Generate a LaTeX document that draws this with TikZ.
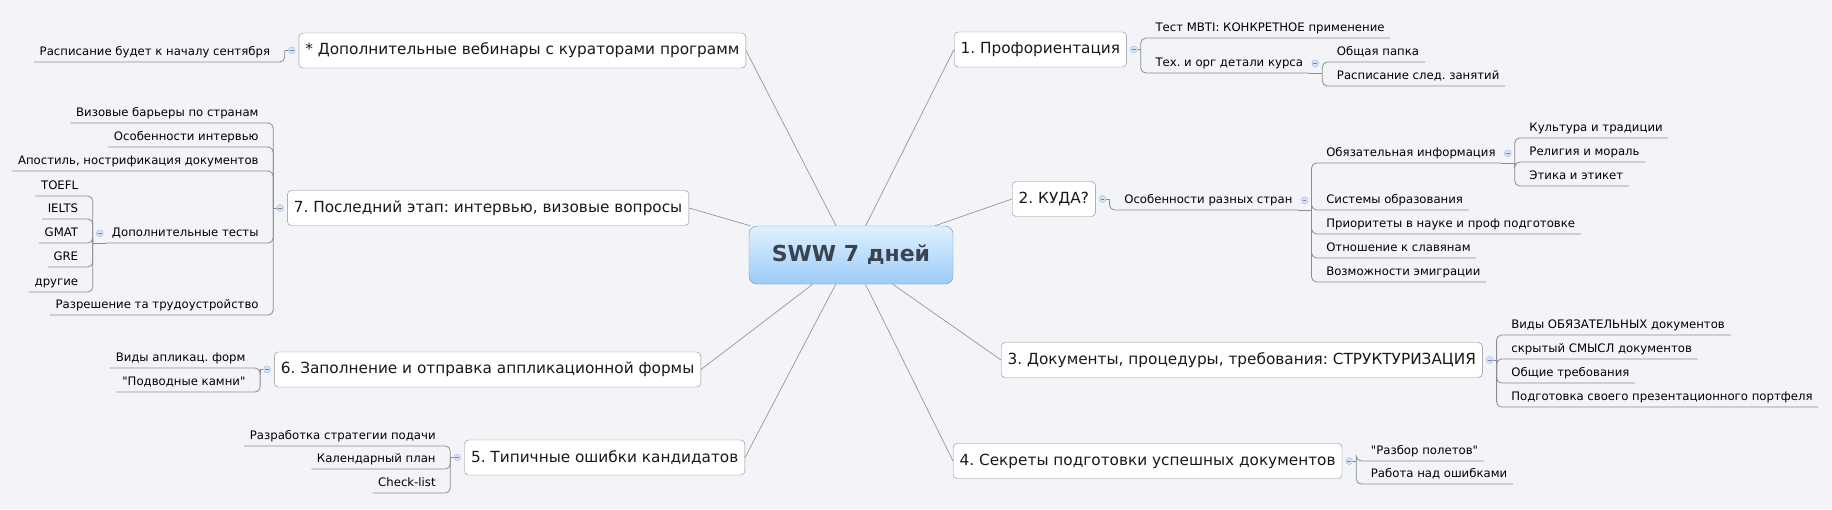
\documentclass[tikz,border=0pt]{standalone}
\usepackage{fontspec}
\setmainfont{DejaVu Sans}[Ligatures=TeXOff]
\frenchspacing
\usetikzlibrary{positioning, calc}
\definecolor{bgcol}{HTML}{F2F4F7}
\definecolor{linecol}{HTML}{8C8C8C}
\definecolor{boxline}{HTML}{8A8A8A}
\definecolor{rootline}{HTML}{7D8FA3}
\definecolor{roottop}{HTML}{DFF0FE}
\definecolor{rootbot}{HTML}{9CCCF8}
\definecolor{roottext}{HTML}{3A4450}
\definecolor{dotfill}{HTML}{D5E3F4}
\definecolor{dotline}{HTML}{A3BEDF}
\tikzset{
	root/.style={draw=rootline, rounded corners=8pt, top color=roottop, bottom color=rootbot, minimum width=204pt, minimum height=58pt, font=\fontsize{22}{26}\selectfont\bfseries, text=roottext},
	topic/.style={draw=boxline, fill=white, rounded corners=4pt, minimum height=35pt, inner xsep=6.5pt, font=\fontsize{15.3}{18}\selectfont, text=black!90},
	leaf/.style={inner xsep=5.5pt, inner ysep=4pt, text height=8.5pt, text depth=2.5pt, font=\fontsize{11.7}{13}\selectfont},
	leaf right/.style={leaf, anchor=south west, xshift=9pt},
	leaf left/.style={leaf, anchor=south east, xshift=-9pt},
	spoke/.style={draw=linecol!90, line width=0.7pt},
	twig/.style={draw=linecol, line width=0.8pt, rounded corners=5pt},
	fold/.style={circle, draw=dotline, fill=dotfill, inner sep=0pt, minimum size=7pt, path picture={\draw[dotline!70!black, line width=0.6pt] ([xshift=1.6pt]path picture bounding box.west) -- ([xshift=-1.6pt]path picture bounding box.east);}}
}

\begin{document}
\begin{tikzpicture}[x=1pt, y=-1pt]
	\fill[bgcol] (0,0) rectangle (1832,509);
	\useasboundingbox (0,0) rectangle (1832,509);

	\node[root] (root) at (851,255) {SWW 7 дней};

	\node[topic, anchor=east] (tS) at (746,50.5) {* Дополнительные вебинары с кураторами программ};
	\node[topic, anchor=east] (t7) at (689,208) {7. Последний этап: интервью, визовые вопросы};
	\node[topic, anchor=east] (t6) at (701,369.5) {6. Заполнение и отправка аппликационной формы};
	\node[topic, anchor=east] (t5) at (745,457.5) {5. Типичные ошибки кандидатов};
	\node[topic, anchor=west] (t1) at (954,49.5) {1. Профориентация};
	\node[topic, anchor=west] (t2) at (1012,199) {2. КУДА?};
	\node[topic, anchor=west] (t3) at (1001,360) {3. Документы, процедуры, требования: СТРУКТУРИЗАЦИЯ};
	\node[topic, anchor=west] (t4) at (953,461) {4. Секреты подготовки успешных документов};

	\foreach \t in {tS,t7,t6,t5} \draw[spoke] (root) -- (\t.east);
	\foreach \t in {t1,t2,t3,t4} \draw[spoke] (root) -- (\t.west);

	\foreach \t in {tS,t7,t6,t5} {
		\node[fold] (\t f) at ([xshift=-7pt]\t.west) {};
		\coordinate (\t b) at ([xshift=-14pt]\t.west);
		\draw[twig] (\t f) -- (\t b);
	}
	\foreach \t in {t1,t2,t3,t4} {
		\node[fold] (\t f) at ([xshift=7pt]\t.east) {};
		\coordinate (\t b) at ([xshift=14pt]\t.east);
		\draw[twig] (\t f) -- (\t b);
	}

	\node[leaf left] (tS1) at (tSb |- 0,62) {Расписание будет к началу сентября};
	\draw[twig] (tSb) |- (tS1.south west);

	\node[leaf left] (t71) at (t7b |- 0,123) {Визовые барьеры по странам};
	\node[leaf left] (t72) at (t7b |- 0,147) {Особенности интервью};
	\node[leaf left] (t73) at (t7b |- 0,171) {Апостиль, нострификация документов};
	\node[leaf left] (t74) at (t7b |- 0,243) {Дополнительные тесты};
	\node[leaf left] (t75) at (t7b |- 0,315) {Разрешение та трудоустройство};
	\foreach \i in {1,...,5} \draw[twig] (t7b) |- (t7\i.south west);

	\node[fold] (t74f) at ([xshift=-6.5pt]t74.west) {};
	\coordinate (t74b) at ([xshift=-13.5pt]t74.south west);
	\draw[twig] (t74.south west) -- (t74b);
	\node[leaf left] (t741) at (t74b |- 0,196) {TOEFL};
	\node[leaf left] (t742) at (t74b |- 0,219) {IELTS};
	\node[leaf left] (t743) at (t74b |- 0,243) {GMAT};
	\node[leaf left] (t744) at (t74b |- 0,267) {GRE};
	\node[leaf left] (t745) at (t74b |- 0,292) {другие};
	\foreach \i in {1,...,5} \draw[twig] (t74b) |- (t74\i.south west);

	\node[leaf left] (t61) at (t6b |- 0,368) {Виды апликац. форм};
	\node[leaf left] (t62) at (t6b |- 0,392) {"Подводные камни"};
	\foreach \i in {1,2} \draw[twig] (t6b) |- (t6\i.south west);

	\node[leaf left] (t51) at (t5b |- 0,446) {Разработка стратегии подачи};
	\node[leaf left] (t52) at (t5b |- 0,469) {Календарный план};
	\node[leaf left] (t53) at (t5b |- 0,493) {Check-list};
	\foreach \i in {1,2,3} \draw[twig] (t5b) |- (t5\i.south west);

	\node[leaf right] (t11) at (t1b |- 0,38) {Тест MBTI: КОНКРЕТНОЕ применение};
	\node[leaf right] (t12) at (t1b |- 0,73) {Тех. и орг детали курса};
	\foreach \i in {1,2} \draw[twig] (t1b) |- (t1\i.south east);

	\node[fold] (t12f) at ([xshift=6.5pt]t12.east) {};
	\coordinate (t12b) at ([xshift=13.5pt]t12.south east);
	\draw[twig] (t12.south east) -- (t12b);
	\node[leaf right] (t121) at (t12b |- 0,62) {Общая папка};
	\node[leaf right] (t122) at (t12b |- 0,86) {Расписание след. занятий};
	\foreach \i in {1,2} \draw[twig] (t12b) |- (t12\i.south east);

	\node[leaf right] (t21) at (t2b |- 0,210) {Особенности разных стран};
	\draw[twig] (t2b) |- (t21.south east);

	\node[fold] (t21f) at ([xshift=6.5pt]t21.east) {};
	\coordinate (t21b) at ([xshift=13.5pt]t21.south east);
	\draw[twig] (t21.south east) -- (t21b);
	\node[leaf right] (t211) at (t21b |- 0,163) {Обязательная информация};
	\node[leaf right] (t212) at (t21b |- 0,210) {Системы образования};
	\node[leaf right] (t213) at (t21b |- 0,234) {Приоритеты в науке и проф подготовке};
	\node[leaf right] (t214) at (t21b |- 0,258) {Отношение к славянам};
	\node[leaf right] (t215) at (t21b |- 0,282) {Возможности эмиграции};
	\foreach \i in {1,...,5} \draw[twig] (t21b) |- (t21\i.south east);

	\node[fold] (t211f) at ([xshift=6.5pt]t211.east) {};
	\coordinate (t211b) at ([xshift=13.5pt]t211.south east);
	\draw[twig] (t211.south east) -- (t211b);
	\node[leaf right] (t2111) at (t211b |- 0,138) {Культура и традиции};
	\node[leaf right] (t2112) at (t211b |- 0,162) {Религия и мораль};
	\node[leaf right] (t2113) at (t211b |- 0,186) {Этика и этикет};
	\foreach \i in {1,2,3} \draw[twig] (t211b) |- (t211\i.south east);

	\node[leaf right] (t31) at (t3b |- 0,335) {Виды ОБЯЗАТЕЛЬНЫХ документов};
	\node[leaf right] (t32) at (t3b |- 0,359) {скрытый СМЫСЛ документов};
	\node[leaf right] (t33) at (t3b |- 0,383) {Общие требования};
	\node[leaf right] (t34) at (t3b |- 0,407) {Подготовка своего презентационного портфеля};
	\foreach \i in {1,...,4} \draw[twig] (t3b) |- (t3\i.south east);

	\node[leaf right] (t41) at (t4b |- 0,461) {"Разбор полетов"};
	\node[leaf right] (t42) at (t4b |- 0,484) {Работа над ошибками};
	\foreach \i in {1,2} \draw[twig] (t4b) |- (t4\i.south east);
\end{tikzpicture}
\end{document}
